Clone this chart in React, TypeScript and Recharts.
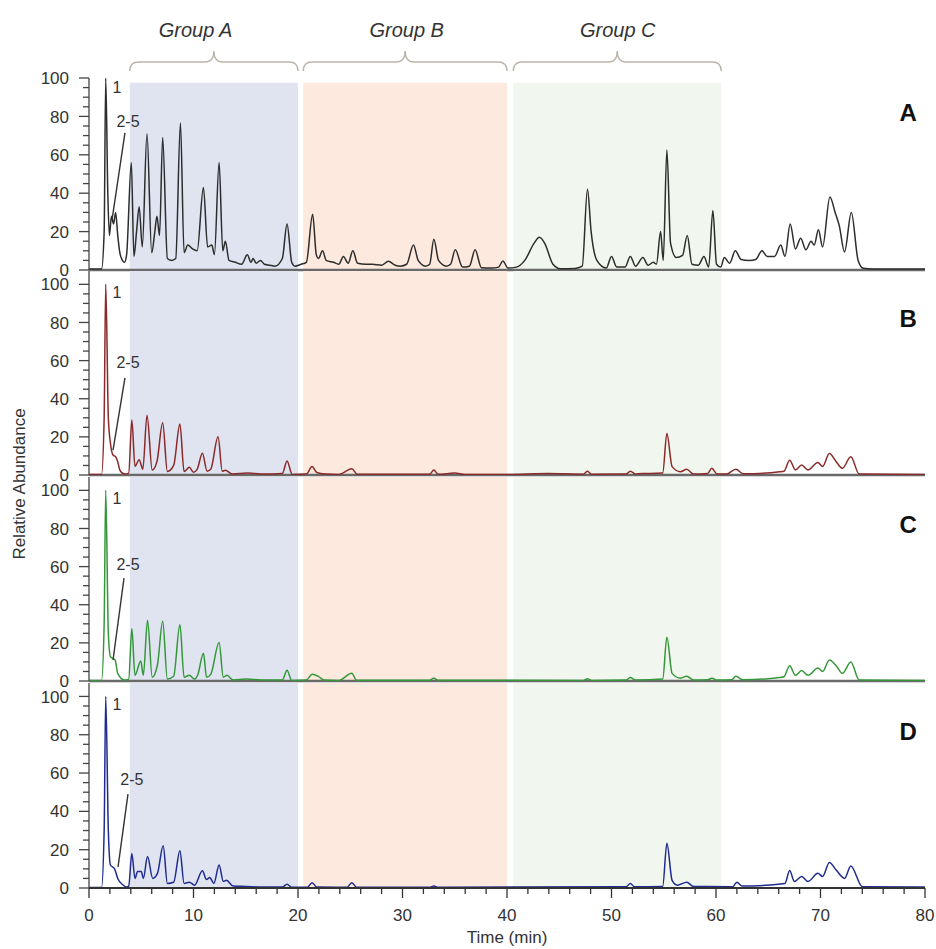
import React from 'react'
import { LineChart, Line, XAxis, YAxis, ReferenceArea, ReferenceLine, ReferenceDot } from 'recharts'

// retention time (min) / relative abundance (%)
const timeA = [0, 1.2, 1.45, 1.6, 1.8, 1.95, 2.15, 2.35, 2.55, 2.75, 2.95, 3.2, 3.4, 3.6, 4.05, 4.3, 4.55, 4.8, 5.1, 5.55, 6.0, 6.3, 6.5, 6.75, 7.05, 7.5, 7.9, 8.3, 8.75, 9.1, 9.45, 9.9, 10.35, 10.95, 11.35, 11.75, 12.0, 12.45, 12.8, 13.05, 13.4, 14.0, 14.6, 15.15, 15.5, 15.7, 16.0, 16.4, 16.8, 17.3, 17.8, 18.5, 18.95, 19.4, 19.7, 20.3, 20.8, 21.4, 21.75, 21.95, 22.35, 22.7, 23.4, 23.9, 24.35, 24.8, 25.25, 25.7, 26.5, 27.1, 28.0, 28.65, 29.3, 29.8, 30.4, 31.05, 31.5, 32.2, 32.6, 33.0, 33.45, 34.2, 34.6, 35.05, 35.75, 36.4, 36.95, 37.55, 38.5, 39.2, 39.6, 40.1, 40.9, 41.7, 42.6, 43.1, 43.6, 44.4, 45.1, 46.5, 47.2, 47.7, 48.05, 48.6, 49.5, 50.0, 50.5, 51.3, 51.8, 52.3, 53.0, 53.5, 54.0, 54.3, 54.7, 54.95, 55.3, 55.65, 56.2, 56.8, 57.25, 57.7, 58.3, 58.85, 59.3, 59.7, 60.05, 60.45, 60.8, 61.3, 61.85, 62.4, 63.2, 63.8, 64.4, 64.9, 65.6, 66.2, 66.6, 67.1, 67.6, 68.1, 68.6, 69.1, 69.4, 69.8, 70.2, 70.9, 71.4, 71.8, 72.3, 72.95, 73.6, 74.1, 75, 80]
const abundA = [0.5, 0.5, 20, 100, 40, 18, 28, 24, 30, 18, 9, 5, 4, 8, 56, 7, 20, 33, 12, 71, 9, 20, 28, 18, 69, 6, 5, 6, 76.5, 9, 13, 11, 10, 43, 12, 13, 8, 56, 10, 15, 5, 4, 3, 8, 4, 6, 3.5, 5, 3, 2.5, 2, 6, 24, 4, 2, 3, 4, 29, 8, 6, 10, 5, 4, 3, 7, 3.5, 10, 3.5, 3, 3, 2.5, 4.5, 2.5, 2, 3, 13, 5, 2, 3, 16, 5, 2, 3, 10.5, 1.5, 2, 10.5, 1.2, 1, 1.5, 4.7, 1, 1.5, 5, 14, 17, 14, 3, 0.7, 0.8, 2, 42, 20, 5, 1, 7, 1.5, 1.5, 7, 2, 6.5, 2.5, 4, 3, 20, 5, 62.5, 14, 6.5, 7.6, 18, 3, 2.5, 7, 1.5, 31, 3, 1.5, 6.5, 3.5, 10, 5.5, 5, 5.5, 10, 7, 7, 13, 7, 24, 11, 16.6, 10.5, 15, 13, 21, 12, 38, 30, 23, 9.4, 30, 5, 0.9, 0.5, 0.5]

const timeB = [0, 1.2, 1.45, 1.6, 1.85, 2.05, 2.3, 2.55, 2.75, 2.95, 3.4, 3.8, 4.1, 4.4, 4.8, 5.15, 5.55, 6.05, 6.5, 7.05, 7.5, 8.1, 8.7, 9.1, 9.6, 10.0, 10.35, 10.85, 11.3, 11.65, 12.35, 12.75, 13.05, 13.7, 15.2, 16.5, 18.5, 18.95, 19.45, 20.8, 21.35, 21.8, 22.6, 23.9, 25.15, 25.65, 30, 32.6, 33.0, 33.4, 35.0, 36, 40, 43.9, 47.3, 47.7, 48.1, 51.4, 51.8, 52.3, 52.9, 53.7, 54.9, 55.3, 55.8, 56.6, 57.2, 57.85, 59.2, 59.6, 60.1, 61.0, 61.9, 62.6, 66.1, 66.5, 67.05, 67.6, 68.2, 68.8, 69.75, 70.2, 70.85, 71.5, 72.1, 72.9, 73.7, 80]
const abundB = [0.3, 0.3, 30, 100, 30, 16.7, 10.5, 9.6, 7, 2.6, 0.5, 1, 28.8, 4.5, 8, 3, 31.4, 2.6, 7, 27.4, 1.8, 5, 26.7, 1.8, 4, 1.5, 3, 11.4, 2, 3, 20, 2, 2.5, 0.5, 1, 0.5, 0.8, 7.3, 0.3, 0.5, 4.4, 1.3, 0.5, 0.3, 3.3, 0.4, 0.4, 0.4, 2.6, 0.4, 1, 0.3, 0.3, 0.8, 0.4, 2, 0.4, 0.5, 2, 0.5, 0.8, 0.8, 1, 21.8, 4.4, 1.7, 3, 0.5, 0.8, 3.5, 0.5, 0.5, 3, 0.6, 1.7, 2, 7.8, 2.6, 5.2, 2.6, 6.5, 4.5, 11.3, 7, 3.5, 9.6, 0.5, 0.3]

const timeC = [0, 1.2, 1.45, 1.6, 1.85, 2.05, 2.5, 2.75, 3.4, 3.8, 4.1, 4.4, 4.95, 5.2, 5.6, 6.05, 6.55, 7.05, 7.5, 8.1, 8.7, 9.1, 9.6, 10.1, 10.4, 10.95, 11.25, 11.65, 12.45, 12.85, 13.2, 13.8, 15.0, 16.5, 18.5, 18.95, 19.4, 20.8, 21.35, 21.95, 22.5, 23.9, 25.15, 25.6, 32.6, 33.0, 33.4, 47.3, 47.7, 48.1, 51.4, 51.8, 52.3, 54.9, 55.3, 55.8, 56.6, 57.2, 57.85, 59.2, 59.6, 60.1, 61.5, 61.9, 62.6, 66.1, 66.5, 67.05, 67.6, 68.2, 68.8, 69.75, 70.2, 70.85, 71.5, 72.1, 72.9, 73.7, 80]
const abundC = [0.3, 0.3, 30, 100, 25, 12.7, 11, 4, 0.5, 1, 27.5, 3, 10.5, 3, 31.8, 2, 8.4, 31.3, 1, 2.5, 29.6, 2, 3, 1, 3, 14.5, 2, 3.5, 20.2, 2, 3, 0.5, 1, 0.5, 0.5, 5.7, 0.3, 0.5, 3.5, 2.4, 0.5, 0.3, 4, 0.4, 0.4, 1.5, 0.4, 0.3, 1.2, 0.3, 0.5, 1.8, 0.5, 1, 23, 4, 1.5, 2.5, 0.5, 0.6, 1.5, 0.5, 0.6, 2.5, 0.6, 1.8, 2.2, 8, 3, 5.5, 3, 6.8, 5, 11, 8, 4, 10, 0.5, 0.3]

const timeD = [0, 1.2, 1.45, 1.6, 1.85, 2.05, 2.45, 2.75, 3.25, 3.6, 3.8, 4.1, 4.4, 4.65, 5.0, 5.2, 5.6, 6.1, 6.55, 7.1, 7.5, 8.1, 8.7, 9.1, 9.6, 10.1, 10.85, 11.25, 11.55, 11.95, 12.45, 12.85, 13.15, 13.8, 15, 16.5, 18.5, 18.95, 19.4, 20.9, 21.35, 21.8, 24.7, 25.15, 25.6, 32.6, 33.0, 33.4, 51.4, 51.8, 52.2, 54.9, 55.3, 55.8, 56.3, 57.2, 57.85, 61.6, 62.0, 62.5, 66.6, 67.05, 67.5, 68.2, 68.8, 69.75, 70.2, 70.85, 71.5, 72.3, 72.9, 74.0, 80]
const abundD = [0.3, 0.3, 30, 100, 30, 12, 10, 5, 1.6, 0.5, 1, 18, 5, 8.6, 8.6, 5, 16.4, 5, 7.6, 22, 2.4, 3, 19.5, 2.4, 3, 1.5, 9, 4.4, 5.5, 2.4, 12, 3.5, 4, 1, 0.8, 0.5, 0.5, 2, 0.4, 0.4, 2.8, 0.5, 0.4, 2.8, 0.4, 0.4, 1, 0.4, 0.6, 2.4, 0.6, 0.8, 23.4, 4, 1.5, 3, 0.8, 0.7, 3, 1, 2.4, 9.1, 3.4, 6, 3.4, 7.7, 6, 13.3, 9.4, 5, 11.5, 0.7, 0.5]

const panelNames = ['A', 'B', 'C', 'D']
const panelColors = ['#2d2d2d', '#8a2a2a', '#35973a', '#1f2b8f']

const groupNames = ['Group A', 'Group B', 'Group C']
const groupStart = [3.9, 20.5, 40.6]
const groupEnd = [20.0, 40.0, 60.5]
const groupLabelAt = [10.2, 30.4, 50.6]
const groupFills = ['#dfe4f0', '#fde9dd', '#f1f7ee']

const xTicks = [0, 2, 4, 6, 8, 10, 12, 14, 16, 18, 20, 22, 24, 26, 28, 30, 32, 34, 36, 38, 40, 42, 44, 46, 48, 50, 52, 54, 56, 58, 60, 62, 64, 66, 68, 70, 72, 74, 76, 78, 80]
const yTicks = [0, 5, 10, 15, 20, 25, 30, 35, 40, 45, 50, 55, 60, 65, 70, 75, 80, 85, 90, 95, 100]

// peak callouts per panel: "1" label, "2-5" label and its leader line
const oneLabelAt = [[2.68, 95], [2.68, 96], [2.68, 96], [2.68, 96]]
const clusterLabelAt = [[3.73, 77.6], [3.73, 59], [3.73, 61], [4.1, 57]]
const leaderFrom = [[3.44, 71.4], [3.44, 51], [3.35, 54], [3.73, 49]]
const leaderTo = [[2.2, 26], [2.3, 13], [2.3, 11], [2.78, 11]]

const FONT = '"Liberation Sans", Arial, sans-serif'

const YTick = (props: any) => {
  const { x, y, payload } = props
  const major = payload.value % 20 === 0
  return (
    <g>
      <line x1={x - (major ? 10 : 6)} y1={y} x2={x} y2={y} stroke="#444" strokeWidth={1.3} />
      {major && (
        <text x={x - 20} y={y} dy="0.36em" textAnchor="end" fontSize={17} fill="#333" fontFamily={FONT}>
          {payload.value}
        </text>
      )}
    </g>
  )
}

const XTick = (props: any) => {
  const { x, y, payload } = props
  const major = payload.value % 10 === 0
  return (
    <g>
      <line x1={x} y1={y} x2={x} y2={y + (major ? 10 : 6)} stroke="#333" strokeWidth={1.3} />
      {major && (
        <text x={x} y={y + 27} dy="0.36em" textAnchor="middle" fontSize={17} fill="#333" fontFamily={FONT}>
          {payload.value}
        </text>
      )}
    </g>
  )
}

const makeBrace = (label: string, frac: number) => (props: any) => {
  const { x1, x2, y1 } = props
  const mid = (x1 + x2) / 2
  const lx = x1 + (x2 - x1) * frac
  const d = `M${x1},${y1 + 9} Q${x1},${y1} ${x1 + 9},${y1} L${mid - 9},${y1} Q${mid},${y1} ${mid},${y1 - 11} Q${mid},${y1} ${mid + 9},${y1} L${x2 - 9},${y1} Q${x2},${y1} ${x2},${y1 + 9}`
  return (
    <g>
      <path d={d} fill="none" stroke="#bbb4aa" strokeWidth={1.4} />
      <text x={lx} y={y1 - 32} dy="0.36em" textAnchor="middle" fontSize={20} fontStyle="italic" fill="#333" fontFamily={FONT}>
        {label}
      </text>
    </g>
  )
}

const textShape = (label: string, size: number, bold: boolean) => (props: any) => (
  <text x={props.cx} y={props.cy} dy="0.36em" textAnchor="middle" fontSize={size} fontWeight={bold ? 700 : 400} fill={bold ? '#111' : '#333'} fontFamily={FONT}>
    {label}
  </text>
)

interface PanelProps {
  idx: number
  times: number[]
  values: number[]
  top: number
  height: number
  marginTop: number
  marginBottom: number
  last: boolean
}

function Panel({ idx, times, values, top, height, marginTop, marginBottom, last }: PanelProps) {
  const data = times.map((t, i) => ({ t, v: values[i] }))
  const first = idx === 0
  return (
    <div style={{ position: 'absolute', left: 0, top }}>
      <LineChart width={936} height={height} data={data} margin={{ top: marginTop, right: 11, bottom: marginBottom, left: 0 }}>
        {groupStart.map((s, g) => (
          <ReferenceArea key={g} x1={s} x2={groupEnd[g]} y1={first ? 0 : undefined} y2={first ? 97.5 : undefined} fill={groupFills[g]} fillOpacity={1} stroke="none" ifOverflow="visible" />
        ))}
        <XAxis
          type="number"
          dataKey="t"
          domain={[0, 80]}
          hide={!last}
          ticks={xTicks}
          interval={0}
          tick={<XTick />}
          tickLine={false}
          tickSize={0}
          tickMargin={0}
          height={61}
          axisLine={{ stroke: '#333', strokeWidth: 2 }}
          label={last ? { value: 'Time (min)', position: 'insideBottom', offset: 6, fontSize: 17, fill: '#333', fontFamily: FONT } : undefined}
        />
        <YAxis
          type="number"
          domain={first ? [0, 100] : [0, 107]}
          ticks={yTicks}
          interval={0}
          width={89}
          tick={<YTick />}
          tickLine={false}
          tickSize={0}
          tickMargin={0}
          axisLine={{ stroke: '#444', strokeWidth: 1.3 }}
          allowDataOverflow
        />
        {!last && <ReferenceLine y={0} stroke="#6a6a6a" strokeWidth={2.4} ifOverflow="visible" />}
        <Line type="monotone" dataKey="v" stroke={panelColors[idx]} strokeWidth={1.5} dot={false} isAnimationActive={false} />
        <ReferenceLine
          segment={[
            { x: leaderFrom[idx][0], y: leaderFrom[idx][1] },
            { x: leaderTo[idx][0], y: leaderTo[idx][1] },
          ]}
          stroke="#333"
          strokeWidth={1.4}
          ifOverflow="visible"
        />
        <ReferenceDot x={oneLabelAt[idx][0]} y={oneLabelAt[idx][1]} r={0} ifOverflow="visible" shape={textShape('1', 16, false)} />
        <ReferenceDot x={clusterLabelAt[idx][0]} y={clusterLabelAt[idx][1]} r={0} ifOverflow="visible" shape={textShape('2-5', 16, false)} />
        <ReferenceDot x={78.4} y={82} r={0} ifOverflow="visible" shape={textShape(panelNames[idx], 24, true)} />
        {first &&
          groupStart.map((s, g) => (
            <ReferenceLine
              key={'b' + g}
              segment={[
                { x: s, y: 108.3 },
                { x: groupEnd[g], y: 108.3 },
              ]}
              ifOverflow="visible"
              shape={makeBrace(groupNames[g], (groupLabelAt[g] - s) / (groupEnd[g] - s))}
            />
          ))}
      </LineChart>
    </div>
  )
}

export default function App() {
  return (
    <div style={{ position: 'absolute', left: 0, top: 0, width: 936, height: 949, background: '#fff', fontFamily: FONT }}>
      <Panel idx={0} times={timeA} values={abundA} top={0} height={282} marginTop={78} marginBottom={12} last={false} />
      <Panel idx={1} times={timeB} values={abundB} top={255} height={232} marginTop={16} marginBottom={12} last={false} />
      <Panel idx={2} times={timeC} values={abundC} top={461} height={232} marginTop={16} marginBottom={12} last={false} />
      <Panel idx={3} times={timeD} values={abundD} top={667} height={282} marginTop={16} marginBottom={0} last={true} />
      <div
        style={{
          position: 'absolute',
          left: 20,
          top: 484,
          transform: 'translate(-50%, -50%) rotate(-90deg)',
          whiteSpace: 'nowrap',
          fontSize: 17,
          color: '#333',
        }}
      >
        Relative Abundance
      </div>
    </div>
  )
}
